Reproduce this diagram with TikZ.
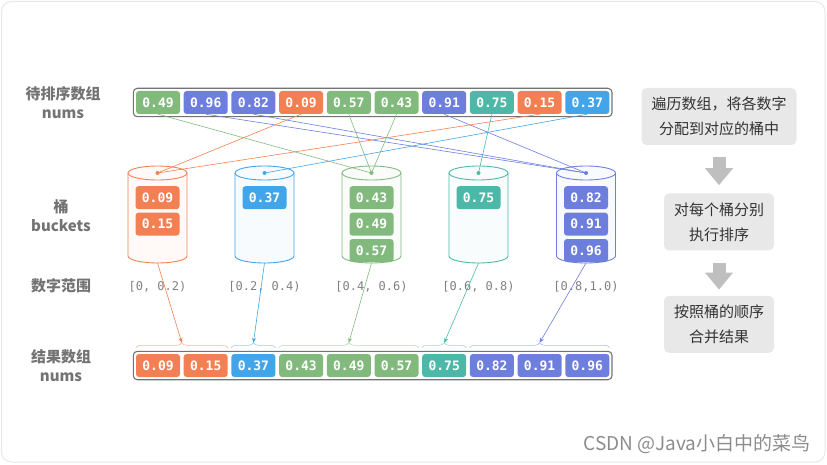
\documentclass[tikz,border=0pt]{standalone}
\usepackage{fontspec}
\setmainfont{Noto Sans CJK SC}
\setmonofont{DejaVu Sans Mono}
\usepackage{xcolor}
\usepackage{tikz}
\usetikzlibrary{arrows.meta,positioning,calc,fit,decorations.pathreplacing}
\definecolor{cor}{HTML}{F38052}
\definecolor{cgr}{HTML}{82BA7E}
\definecolor{cpu}{HTML}{6D7EDC}
\definecolor{cte}{HTML}{4EB8A8}
\definecolor{cbl}{HTML}{42A5EA}

\begin{document}
\begin{tikzpicture}[x=1pt, y=1pt,
  cell/.style={fill=#1, text=white, rounded corners=3pt, minimum width=44pt,
               minimum height=23pt, inner sep=0pt,
               font=\fontsize{13}{15}\selectfont\ttfamily\bfseries},
  frame/.style={draw=black!55, line width=1.1pt, rounded corners=4pt, inner sep=2.5pt},
  bucket/.style={draw=#1, fill=#1!4, line width=0.9pt},
  link/.style={draw=#1, line width=0.6pt},
  brc/.style={draw=#1!55, line width=0.6pt, decorate,
              decoration={brace, amplitude=5pt, raise=6pt}},
  rng/.style={text=black!50, font=\fontsize{12}{14}\selectfont\ttfamily, inner sep=0pt},
  lbl/.style={text=black!55, align=center, font=\fontsize{15}{19}\selectfont\bfseries},
  stepbox/.style={fill=black!9, rounded corners=5pt, align=center, text=black!80,
                  inner xsep=10pt, minimum height=57pt, font=\fontsize{15}{25}\selectfont},
  blk/.style={draw=black!25, line width=13pt, -{Triangle[width=27pt, length=17pt]}},
  wm/.style={text=black!45, font=\fontsize{19}{21}\selectfont}]
\useasboundingbox (0,0) rectangle (827,-465);
\draw[black!9, line width=1pt, rounded corners=10pt] (1.5,-1.5) rectangle (825,-462);

% row labels
\node[lbl] (l1) at (63,-103) {待排序数组\\nums};
\node[lbl] (l2) at (61,-216) {桶\\buckets};
\node[lbl] (l3) at (61,-286) {数字范围};
\node[lbl] (l4) at (61,-366) {结果数组\\nums};

% input array
\node[cell=cgr] (a1) at (158,-102.5) {0.49};
\node[cell=cpu, right=3.3pt of a1] (a2) {0.96};
\node[cell=cpu, right=3.3pt of a2] (a3) {0.82};
\node[cell=cor, right=3.3pt of a3] (a4) {0.09};
\node[cell=cgr, right=3.3pt of a4] (a5) {0.57};
\node[cell=cgr, right=3.3pt of a5] (a6) {0.43};
\node[cell=cpu, right=3.3pt of a6] (a7) {0.91};
\node[cell=cte, right=3.3pt of a7] (a8) {0.75};
\node[cell=cor, right=3.3pt of a8] (a9) {0.15};
\node[cell=cbl, right=3.3pt of a9] (a10) {0.37};
\node[frame, fit=(a1)(a10)] (in) {};

% buckets: d = top centre, e = lowest point
\foreach \n/\x/\c in {1/157.5/cor, 2/264.5/cbl, 3/371.5/cgr, 4/478.5/cte, 5/586/cpu} {
  \filldraw[bucket=\c] (\x-29.5,-173) -- (\x-29.5,-256)
    arc[start angle=180, end angle=360, x radius=29.5, y radius=7] -- (\x+29.5,-173);
  \filldraw[bucket=\c] (\x,-173) ellipse[x radius=29.5, y radius=7];
  \coordinate (d\n) at (\x,-173);
  \coordinate (e\n) at (\x,-263);
}
\node[cell=cor, below=13pt of d1] (k1a) {0.09};
\node[cell=cor, below=3pt of k1a] (k1b) {0.15};
\node[cell=cbl, below=13pt of d2] (k2a) {0.37};
\node[cell=cgr, below=13pt of d3] (k3a) {0.43};
\node[cell=cgr, below=3pt of k3a] (k3b) {0.49};
\node[cell=cgr, below=3pt of k3b] (k3c) {0.57};
\node[cell=cte, below=13pt of d4] (k4a) {0.75};
\node[cell=cpu, below=13pt of d5] (k5a) {0.82};
\node[cell=cpu, below=3pt of k5a] (k5b) {0.91};
\node[cell=cpu, below=3pt of k5b] (k5c) {0.96};

% scatter into buckets
\draw[link=cgr] (a1.south) -- (d3);
\draw[link=cpu] (a2.south) -- (d5);
\draw[link=cpu] (a3.south) -- (d5);
\draw[link=cor] (a4.south) -- (d1);
\draw[link=cgr] (a5.south) -- (d3);
\draw[link=cgr] (a6.south) -- (d3);
\draw[link=cpu] (a7.south) -- (d5);
\draw[link=cte] (a8.south) -- (d4);
\draw[link=cor] (a9.south) -- (d1);
\draw[link=cbl] (a10.south) -- (d2);
\fill[cor] (d1) circle (2pt);
\fill[cbl] (d2) circle (2pt);
\fill[cgr] (d3) circle (2pt);
\fill[cte] (d4) circle (2pt);
\fill[cpu] (d5) circle (2pt);

% ranges
\node[rng, below=18pt of e1] (r1) {[0, 0.2)};
\node[rng, below=18pt of e2] (r2) {[0.2, 0.4)};
\node[rng, below=18pt of e3] (r3) {[0.4, 0.6)};
\node[rng, below=18pt of e4] (r4) {[0.6, 0.8)};
\node[rng, below=18pt of e5] (r5) {[0.8,1.0)};

% result array
\node[cell=cor] (b1) at (158,-365.5) {0.09};
\node[cell=cor, right=3.3pt of b1] (b2) {0.15};
\node[cell=cbl, right=3.3pt of b2] (b3) {0.37};
\node[cell=cgr, right=3.3pt of b3] (b4) {0.43};
\node[cell=cgr, right=3.3pt of b4] (b5) {0.49};
\node[cell=cgr, right=3.3pt of b5] (b6) {0.57};
\node[cell=cte, right=3.3pt of b6] (b7) {0.75};
\node[cell=cpu, right=3.3pt of b7] (b8) {0.82};
\node[cell=cpu, right=3.3pt of b8] (b9) {0.91};
\node[cell=cpu, right=3.3pt of b9] (b10) {0.96};
\node[frame, fit=(b1)(b10)] (out) {};

% merge back
\draw[brc=cor] (b1.north west) -- (b2.north east);
\draw[brc=cbl] (b3.north west) -- (b3.north east);
\draw[brc=cgr] (b4.north west) -- (b6.north east);
\draw[brc=cte] (b7.north west) -- (b7.north east);
\draw[brc=cpu] (b8.north west) -- (b10.north east);
\coordinate (t1) at ($(b1.north west)!0.5!(b2.north east)+(0,11)$);
\coordinate (t2) at ($(b3.north)+(0,11)$);
\coordinate (t3) at ($(b5.north)+(0,11)$);
\coordinate (t4) at ($(b7.north)+(0,11)$);
\coordinate (t5) at ($(b9.north)+(0,11)$);
\draw[link=cor, -{Stealth[length=5pt, width=4pt]}] (e1) -- (t1);
\draw[link=cbl, -{Stealth[length=5pt, width=4pt]}] (e2) -- (t2);
\draw[link=cgr, -{Stealth[length=5pt, width=4pt]}] (e3) -- (t3);
\draw[link=cte, -{Stealth[length=5pt, width=4pt]}] (e4) -- (t4);
\draw[link=cpu, -{Stealth[length=5pt, width=4pt]}] (e5) -- (t5);

% steps
\node[stepbox] (s1) at (719,-116.5) {遍历数组，将各数字\\分配到对应的桶中};
\node[stepbox, below=48pt of s1] (s2) {对每个桶分别\\执行排序};
\node[stepbox, below=45pt of s2] (s3) {按照桶的顺序\\合并结果};
\draw[blk, shorten <=12pt, shorten >=8pt] (s1.south) -- (s2.north);
\draw[blk, shorten <=12pt, shorten >=6pt] (s2.south) -- (s3.north);

\node[wm] (wm) at (697,-444) {CSDN @Java小白中的菜鸟};
\end{tikzpicture}
\end{document}
